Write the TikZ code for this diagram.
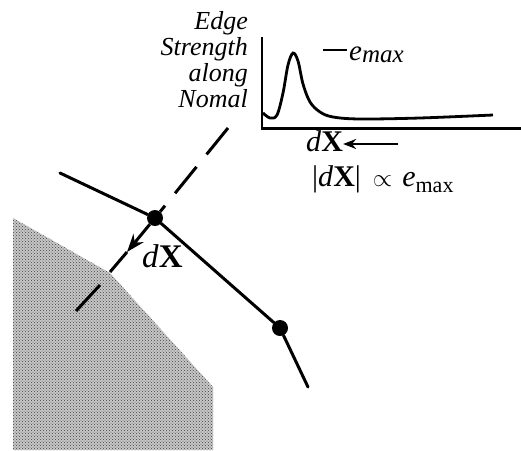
\documentclass[tikz,border=0pt]{standalone}
\usepackage{fontspec}
\setmainfont{Liberation Serif}
\usetikzlibrary{arrows.meta,patterns}
\begin{document}
\begin{tikzpicture}[x=1pt,y=-1pt,
  contour/.style={line width=3pt,line cap=round},
  vertex/.style={circle,fill=black,inner sep=0pt,minimum size=16pt},
  normdash/.style={line width=3pt,dash pattern=on 34pt off 16pt},
  lbl/.style={inner sep=0pt,font=\fontsize{26}{26}\selectfont}]
\useasboundingbox (0,0) rectangle (521,450);
% shaded region
\fill[black!22] (13,218) -- (110,273) -- (213,387) -- (213,450) -- (13,450) -- cycle;
\fill[pattern=crosshatch dots,pattern color=black!75] (13,218) -- (110,273) -- (213,387) -- (213,450) -- (13,450) -- cycle;
% edge strength profile
\begin{scope}
\draw[line width=2.4pt] (262,37) -- (262,129);
\draw[line width=3pt] (261,128) -- (521,128);
\draw[line width=2.8pt] plot[smooth,tension=0.55] coordinates {(263,113) (270,118) (277,115) (283,93) (288,65) (293,53) (298,61) (303,84) (310,102) (320,112) (333,117) (360,119) (420,118) (493,115)};
\node[lbl,anchor=north east,align=right,font=\fontsize{26}{26}\selectfont\itshape] (normlbl) at (248,11) {Edge\\Strength\\along\\Nomal};
\coordinate (emaxtick) at (323,50);
\node[lbl,anchor=base west] (emax) at (349,60) {\fontsize{29}{29}\selectfont\textit{e}\raisebox{-2pt}{\fontsize{25}{25}\selectfont\textit{max}}};
\draw[line width=2.4pt] (emaxtick) -- (347,50);
\end{scope}
% contour and normal
\node[vertex] (v1) at (155,218) {};
\node[vertex] (v2) at (280,328) {};
\coordinate (c0) at (60,173); \coordinate (c3) at (308,387);
\draw[contour] (c0) -- (v1) -- (v2) -- (c3);
\coordinate (n0) at (228,128); \coordinate (tip) at (127,252);
\coordinate (n1) at (110,272); \coordinate (n2) at (100,285); \coordinate (n3) at (76,311);
\draw[normdash] (n0) -- (v1);
\draw[line width=3pt,-{Stealth[length=18pt,width=13pt]}] (v1) -- (tip);
\draw[line width=3pt] (tip) -- (n1);
\draw[line width=3pt] (n2) -- (n3);
\node[anchor=base west,inner sep=0pt,font=\fontsize{33}{33}\selectfont] (dxlbl) at (142,267) {\textit{d}\textbf{X}};
% displacement
\node[anchor=base west,inner sep=0pt,font=\fontsize{30}{30}\selectfont] (dxtop) at (306,151) {\textit{d}\textbf{X}};
\coordinate (dxtail) at (398,144);
\draw[line width=2.2pt,-{Stealth[length=13pt,width=10pt]}] (dxtail) -- (dxtop.east |- dxtail);
\node[anchor=base west,inner sep=0pt,font=\fontsize{30}{30}\selectfont] (prop) at (312,186) {|\textit{d}\textbf{X}|\hspace{12pt}$\propto$\hspace{10pt}\textit{e}\raisebox{-6pt}{\fontsize{22}{22}\selectfont max}};
\end{tikzpicture}
\end{document}
